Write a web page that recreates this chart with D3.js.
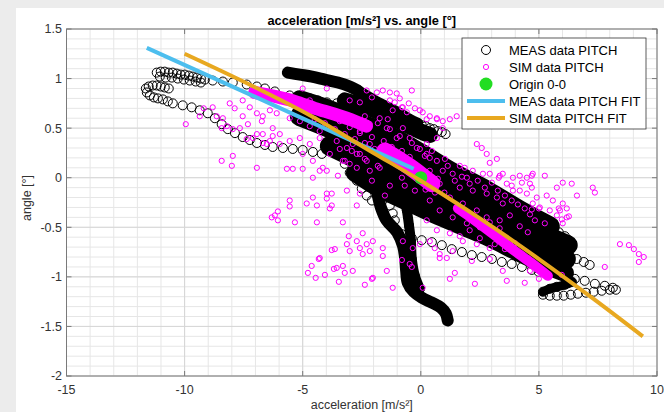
<!DOCTYPE html>
<html>
<head>
<meta charset="utf-8">
<script src="https://cdn.jsdelivr.net/npm/d3@7"></script>
<style>
  body { margin: 0; background: #ececec; }
  svg { display: block; font-family: Arial, "Liberation Sans", Helvetica, sans-serif; }
</style>
</head>
<body>
<svg width="664" height="412"></svg>
<script>
// ticks
const xTicks = [-15, -10, -5, 0, 5, 10];
const yTicks = [-2, -1.5, -1, -0.5, 0, 0.5, 1, 1.5];

// MEAS data PITCH (traces of overlapping circles)
const measTopLeftA = [[-11.18,1.06],[-11.01,1.07],[-10.84,1.07],[-10.67,1.06],[-10.50,1.06],[-10.33,1.05],[-10.16,1.04],[-9.99,1.04],[-9.82,1.03],[-9.65,1.02],[-9.48,1.01],[-9.31,1.00],[-9.14,0.99],[-8.81,0.98],[-8.38,0.97],[-7.96,0.96],[-7.37,0.94],[-6.94,0.92],[-6.60,0.90],[-6.18,0.87],[-5.55,0.83],[-5.12,0.81],[-4.70,0.80],[-4.36,0.78],[-3.98,0.76],[-3.56,0.75]];
const measTopLeftB = [[-11.05,1.02],[-10.80,1.01],[-10.54,1.01],[-10.29,1.00],[-10.03,0.99],[-9.78,0.98],[-9.53,0.97],[-9.31,0.96]];
const measLowerLeft = [[-11.64,0.90],[-11.52,0.92],[-11.35,0.93],[-11.18,0.93],[-11.01,0.92],[-10.84,0.91],[-10.67,0.90],[-11.60,0.86],[-11.47,0.83],[-11.30,0.81],[-11.13,0.80],[-10.92,0.79],[-10.71,0.77],[-10.50,0.75],[-10.08,0.73],[-9.70,0.71],[-9.36,0.68],[-9.02,0.65],[-8.72,0.60],[-8.43,0.54],[-8.17,0.49],[-7.87,0.45],[-7.54,0.41],[-7.24,0.38],[-6.94,0.35],[-6.60,0.33],[-6.27,0.31],[-5.84,0.30],[-5.42,0.29],[-5.00,0.28],[-4.57,0.26],[-4.19,0.24]];
const measTopArm = [[-5.63,1.06],[-5.12,1.04],[-4.61,1.02],[-4.06,0.99],[-3.51,0.96],[-3.01,0.92],[-2.67,0.88]];
const measRightArm = [[-2.67,0.88],[-2.24,0.82],[-1.82,0.76],[-1.31,0.70],[-0.89,0.65],[-0.47,0.59],[-0.13,0.55]];
const measRightArmEnd = [[0.04,0.53],[0.21,0.52],[0.38,0.50],[0.55,0.49],[0.72,0.47],[0.89,0.46],[1.05,0.44]];
const measBand0 = [[-3.22,0.78],[-2.16,0.70],[-1.10,0.59],[-0.04,0.47],[0.38,0.43]];
const measBand1 = [[-5.12,0.78],[-3.85,0.68],[-2.58,0.55],[-1.31,0.42],[-0.04,0.25],[1.35,0.05],[2.79,-0.13],[4.19,-0.33],[5.46,-0.49]];
const measBand2 = [[-5.12,0.62],[-3.85,0.50],[-2.58,0.37],[-1.31,0.20],[-0.04,0.07],[1.35,-0.11],[2.79,-0.28],[4.19,-0.45],[5.55,-0.61],[6.22,-0.68]];
const measBand3 = [[-3.85,0.32],[-2.58,0.17],[-1.31,-0.01],[-0.04,-0.13],[1.35,-0.28],[2.79,-0.45],[4.19,-0.61],[5.46,-0.76],[6.14,-0.82]];
const measBand4 = [[-2.79,0.05],[-1.74,-0.11],[-0.68,-0.23],[0.38,-0.35],[1.65,-0.48],[2.92,-0.61],[4.19,-0.76],[5.38,-0.89],[6.10,-0.96]];
const measTail = [[-1.82,-0.18],[-1.69,-0.30],[-1.45,-0.43],[-1.00,-0.55],[-0.75,-0.69],[-0.66,-0.82],[-0.62,-0.94],[-0.55,-1.06],[-0.30,-1.15],[0.04,-1.21],[0.47,-1.26],[0.85,-1.31],[1.06,-1.37],[1.14,-1.44]];
const measTail2 = [[-0.72,-0.18],[-0.59,-0.33],[-0.50,-0.48],[-0.42,-0.64],[-0.38,-0.82],[-0.25,-0.99],[-0.04,-1.12]];
const measEdgeLeft = [[-3.22,0.14],[-3.01,0.05],[-2.71,-0.03],[-2.50,-0.11],[-2.29,-0.18],[-2.07,-0.23],[-1.31,-0.28],[-1.19,-0.36],[-1.10,-0.43]];
const measEdge = [[-1.10,-0.52],[-0.80,-0.57],[-0.38,-0.61],[0.04,-0.63],[0.47,-0.65],[0.89,-0.68],[1.31,-0.72],[1.74,-0.75],[2.16,-0.78],[2.58,-0.80],[3.01,-0.82],[3.43,-0.85],[3.85,-0.87],[4.28,-0.90],[4.70,-0.93],[4.99,-0.95]];
const measLobeA = [[4.91,-0.45],[5.25,-0.49],[5.55,-0.52],[5.84,-0.55],[6.10,-0.59],[6.27,-0.63]];
const measLobeB = [[5.33,-0.64],[5.67,-0.67],[5.97,-0.69],[6.31,-0.71]];
const measLobeC = [[5.72,-0.74],[6.01,-0.77],[6.31,-0.80],[6.60,-0.82],[6.90,-0.85],[7.15,-0.88]];
const measLoopTop = [[6.52,-1.02],[6.94,-1.04],[7.37,-1.07],[7.79,-1.09],[8.13,-1.11]];
const measLoopBottom = [[5.17,-1.18],[5.46,-1.19],[5.76,-1.19],[6.05,-1.19],[6.35,-1.18],[6.65,-1.17],[6.99,-1.16],[7.32,-1.15],[7.66,-1.14],[8.00,-1.13],[8.26,-1.13]];
const measLoopLink = [[5.17,-1.15],[5.46,-1.12],[5.76,-1.10],[6.10,-1.08],[6.40,-1.05]];

// SIM data PITCH
const simCore1 = [[-7.03,0.86],[-6.18,0.82],[-5.33,0.77],[-4.49,0.70],[-3.64,0.64],[-2.79,0.57],[-2.30,0.52]];
const simCore2 = [[-1.52,0.27],[-0.97,0.19],[-0.47,0.11],[0.04,0.02],[0.47,-0.06]];
const simCore3 = [[1.57,-0.31],[2.29,-0.43],[3.13,-0.58],[3.98,-0.74],[4.74,-0.87],[5.38,-0.99]];
const simScatter = [
  [-9.95,0.54],[-9.36,0.62],[-9.19,0.70],[-8.81,0.71],[-8.09,0.75],[-7.88,0.70],[-8.64,0.62],[-8.38,0.60],[-8.21,0.52],[-8.43,0.50],[-7.96,0.49],[-7.66,0.50],[-7.54,0.62],[-7.32,0.54],[-7.54,0.78],[-7.11,0.83],[-7.24,0.71],[-6.94,0.65],[-6.69,0.62],[-6.39,0.68],[-6.73,0.57],[-6.10,0.65],[-5.55,0.60],[-5.12,0.57],[-4.70,0.78],
  [-6.94,0.44],[-7.11,0.40],[-7.37,0.39],[-6.69,0.35],[-6.69,0.44],[-6.52,0.34],[-6.39,0.37],[-6.27,0.42],[-5.97,0.34],[-7.96,0.22],[-8.43,0.17],[-8.00,0.12],[-6.94,0.10],
  [-5.67,0.09],[-5.42,0.09],[-5.00,0.09],[-4.57,0.00],[-4.28,0.07],[-3.98,0.07],[-3.51,0.02],[-3.77,-0.16],[-3.13,-0.13],[-5.55,-0.23],[-4.83,-0.26],[-4.57,-0.20],[-3.98,-0.16],[-4.40,-0.28],[-3.77,-0.28],[-3.98,-0.21],[-6.18,-0.38],[-6.05,-0.43],[-6.31,-0.40],[-5.33,-0.45],[-4.40,-0.45],[-3.30,-0.45],[-2.71,-0.28],[-2.58,-0.16],[-6.05,-0.34],[-5.55,-0.29],[-3.85,-0.31],
  [-4.32,-0.82],[-4.62,-0.89],[-4.78,-0.96],[-4.45,-1.01],[-4.06,-0.98],[-3.77,-0.73],[-2.46,-0.56],[-2.71,-0.64],[-3.13,-0.67],[-3.01,-0.74],[-2.58,-0.71],[-2.29,-0.67],[-2.03,-0.64],[-2.46,-0.77],[-2.16,-0.74],[-3.64,-0.72],[-4.28,-0.81],[-1.61,-0.79],[-3.56,-0.91],[-3.30,-0.89],[-3.22,-0.96],[-2.88,-0.94],[-1.44,-0.94],[-2.03,-1.01],
  [-3.43,0.29],[-2.88,0.34],[-2.58,0.24],[-3.22,0.17],[-3.01,0.14],
  [-1.19,-1.11],[-1.61,-0.71],[-0.76,-0.64],[-0.34,-0.71],[-0.04,-0.67],[-0.47,-0.87],[0.08,-1.11],[0.80,-0.81],[1.10,-0.81],[1.23,-1.02],[1.44,-0.96],[2.29,-1.07],[3.47,-0.94],[3.64,-1.04],[4.40,-1.06],[2.16,-0.84],[0.59,-0.71],[2.92,-0.82],[4.62,-0.94],[-3.05,-0.59],[-3.68,-0.92],[-3.47,-1.05],[-2.37,-1.08],[-2.07,-1.02],[-0.80,-0.83],[-0.38,-0.90],[5.00,-1.02],[5.97,-0.98],[7.79,-0.90],[8.43,-0.67],[8.81,-0.68],[9.02,-0.72],[9.23,-0.77],[9.44,-0.80],[9.23,-0.85],[5.97,-0.42],[6.27,-0.39],[5.25,-0.46],[4.70,-0.32],[5.00,-0.31],[5.84,-0.31],
  [2.37,0.34],[2.58,0.30],[2.79,0.24],[3.22,0.19],[2.92,0.15],[3.47,0.04],[3.90,0.00],[4.19,0.02],[4.49,0.00],[4.74,0.04],[5.25,0.02],[4.62,-0.06],[4.19,-0.13],[4.49,-0.16],[4.91,-0.20],[5.33,-0.18],[5.59,-0.23],[5.89,-0.33],[6.18,-0.40],[5.76,-0.10],[6.01,-0.05],[6.39,-0.06],[6.61,-0.18],[7.28,-0.10],[7.37,-0.15],[1.65,0.12],[1.86,0.10],[2.20,0.07],[2.63,0.04],[2.92,0.04],[3.34,0.02],[3.64,-0.06],[3.90,-0.13],[4.74,-0.26],[5.04,-0.30],[5.46,-0.33],[5.76,-0.38],[6.01,-0.46],
  [-1.61,0.88],[-1.31,0.86],[-1.02,0.85],[-0.38,0.88],[-0.89,0.80],[-1.10,0.76],[-0.80,0.71],[-0.59,0.66],[-1.19,0.68],[-1.40,0.59],[-0.25,0.70],[0.08,0.66],[0.38,0.62],[0.68,0.59],[0.25,0.59],[0.93,0.57],[1.23,0.59],[1.52,0.62],[-2.29,0.88],[-1.86,0.86],[-2.07,0.81],[-3.98,0.90],[-5.00,0.90],[-3.01,0.78],[-2.58,0.76],[-0.51,0.75],[3.30,0.00],[4.70,0.02],[4.28,-0.05],[3.85,-0.08],[4.70,-0.10],[6.18,-0.31],[6.01,-0.26],
  [0.25,0.24],[0.68,0.17],[0.93,0.07],[1.35,0.04],[1.95,0.00],[1.65,-0.10],[2.20,-0.13],[2.79,-0.16],[3.22,-0.20],[3.47,-0.26],[0.80,-0.06],[1.23,-0.20],[1.78,-0.26],[2.37,-0.33],[2.79,-0.40],[3.34,-0.43],[0.38,-0.23],[0.80,-0.33],[1.35,-0.40],[1.95,-0.46],[2.50,-0.50],[0.25,-0.43],[0.68,-0.53],[1.23,-0.56],[1.78,-0.64],[2.37,-0.67],[2.92,-0.71],[0.80,-0.77],[1.35,-0.74],[0.38,-0.64],
  [-4.28,0.40],[-3.56,0.37],[-3.13,0.30],[-2.71,0.24],[-2.29,0.17],[-1.74,0.10],[-3.85,0.24],[-3.30,0.17],[-2.71,0.10],[-2.16,0.07],[-4.15,0.10],[-4.57,0.17],[-5.00,0.24],[-5.55,0.37],[-5.97,0.44],[-6.27,0.50],[-5.12,0.40],[-4.70,0.34],[-2.16,0.34],[-1.74,0.27],[-2.58,0.47],[-2.16,0.54],[-1.74,0.60],[-1.44,0.50],[-1.02,0.40],[-0.76,0.50],[-0.47,0.40],[-0.17,0.30],[-1.31,0.78],[-0.76,0.71],[-0.04,0.68],[0.68,0.60],[0.93,0.50],[0.68,0.40],[0.25,0.34],[0.38,0.20],
  [-0.30,0.05],[0.20,-0.12],[0.60,-0.15],[-0.80,0.00],[1.00,-0.15],
  [0.17,0.22],[0.47,0.27],[1.02,0.19],[1.14,0.12],[0.38,0.07],[0.72,-0.01],[1.44,-0.03],[1.74,0.01],[2.07,-0.06],[2.41,-0.03],[2.71,-0.10],[3.01,-0.05],[3.26,-0.13],[3.56,-0.18],[3.85,-0.23],[4.11,-0.27],[4.40,-0.31],[4.62,-0.37],[4.83,-0.43],[3.77,-0.38],[4.19,-0.49],[4.53,-0.55],[3.34,-0.51],[2.92,-0.45],[2.07,-0.53],[1.65,-0.59],[2.50,-0.61],[3.13,-0.67],[3.56,-0.72],[3.98,-0.66],
  [-4.91,0.68],[-4.49,0.59],[-4.06,0.55],[-3.64,0.49],[-3.22,0.44],[-2.79,0.39],[-2.37,0.35],[-1.95,0.29],[-1.52,0.22],[-1.10,0.15],[-4.70,0.52],[-4.28,0.47],[-3.43,0.57],[-3.01,0.51],[-2.58,0.45],[-2.07,0.41],[-1.57,0.37],[-1.23,0.31],[-0.80,0.27],[-0.47,0.21],[-2.37,0.62],[-1.82,0.55],[-1.31,0.49],[-0.89,0.42],[-0.38,0.35],[-0.04,0.29],[-2.92,0.27],[-2.37,0.19],[-1.82,0.12],[-1.31,-0.08],[-0.68,-0.08],[-0.25,-0.13],[-2.07,-0.03],[-1.52,-0.18]
];

// origin and fits
const origin = [[0, 0]];
const measFit = [[-11.6,1.31],[-6.4,0.75],[-0.3,0.09]];
const simFit = [[-10,1.25],[-7,0.91],[-4.7,0.63],[-2,0.25],[0,-0.03],[2.5,-0.41],[5,-0.82],[7.3,-1.22],[9.4,-1.60]];

const legendItems = ["MEAS data PITCH", "SIM data PITCH", "Origin 0-0", "MEAS data PITCH FIT", "SIM data PITCH FIT"];

// ---------------------------------------------------------------
const svg = d3.select("svg");
const pL = 66.5, pR = 657, pT = 29, pB = 376;

svg.append("rect").attr("width", 664).attr("height", 412).attr("fill", "#ececec");
svg.append("rect").attr("x", 16).attr("y", 8).attr("width", 648).attr("height", 404).attr("fill", "#fff");

const x = d3.scaleLinear().domain([-15, 10]).range([pL, pR]);
const y = d3.scaleLinear().domain([-2, 1.5]).range([pB, pT]);

// grid
const grid = svg.append("g");
grid.selectAll(".vmin").data(x.ticks(25)).enter().append("line")
  .attr("x1", d => x(d)).attr("x2", d => x(d)).attr("y1", pT).attr("y2", pB)
  .attr("stroke", "#e6e6e6").attr("stroke-width", 1);
grid.selectAll(".hmin").data(y.ticks(35)).enter().append("line")
  .attr("y1", d => y(d)).attr("y2", d => y(d)).attr("x1", pL).attr("x2", pR)
  .attr("stroke", "#e6e6e6").attr("stroke-width", 1);
grid.selectAll(".vmaj").data(xTicks).enter().append("line")
  .attr("x1", d => x(d)).attr("x2", d => x(d)).attr("y1", pT).attr("y2", pB)
  .attr("stroke", "#d6d6d6").attr("stroke-width", 1);
grid.selectAll(".hmaj").data(yTicks).enter().append("line")
  .attr("y1", d => y(d)).attr("y2", d => y(d)).attr("x1", pL).attr("x2", pR)
  .attr("stroke", "#d6d6d6").attr("stroke-width", 1);

svg.append("clipPath").attr("id", "clip").append("rect")
  .attr("x", pL).attr("y", pT).attr("width", pR - pL).attr("height", pB - pT);
const plot = svg.append("g").attr("clip-path", "url(#clip)");

const line = d3.line().x(d => x(d[0])).y(d => y(d[1])).curve(d3.curveCatmullRom);

// MEAS: dense stretches drawn as solid strokes, every point as an open circle
const measStrokes = [
  [measTopArm, 12], [measRightArm, 11], [measBand0, 16], [measBand1, 20], [measBand2, 20],
  [measBand3, 20], [measBand4, 18], [measTail, 12], [measTail2, 10], [measLobeB, 9], [measLoopLink, 9]
];
measStrokes.forEach(([pts, w]) => {
  plot.append("path").datum(pts).attr("d", line)
    .attr("fill", "none").attr("stroke", "#000").attr("stroke-width", w)
    .attr("stroke-linecap", "round").attr("stroke-linejoin", "round");
});
const measAll = [].concat(measTopLeftA, measTopLeftB, measLowerLeft, measTopArm, measRightArm, measRightArmEnd,
  measBand0, measBand1, measBand2, measBand3, measBand4, measTail, measTail2, measEdgeLeft, measEdge,
  measLobeA, measLobeB, measLobeC, measLoopTop, measLoopBottom, measLoopLink);
plot.selectAll(".meas").data(measAll).enter().append("circle")
  .attr("cx", d => x(d[0])).attr("cy", d => y(d[1])).attr("r", 4.5)
  .attr("fill", "none").attr("stroke", "#000").attr("stroke-width", 1);

// SIM
[[simCore1, 13], [simCore2, 17], [simCore3, 10]].forEach(([pts, w]) => {
  plot.append("path").datum(pts).attr("d", line)
    .attr("fill", "none").attr("stroke", "#ff00ff").attr("stroke-width", w)
    .attr("stroke-linecap", "round").attr("stroke-linejoin", "round");
});
const simAll = [].concat(simScatter, simCore1, simCore2, simCore3);
plot.selectAll(".sim").data(simAll).enter().append("circle")
  .attr("cx", d => x(d[0])).attr("cy", d => y(d[1])).attr("r", 2.6)
  .attr("fill", "none").attr("stroke", "#ff00ff").attr("stroke-width", 1);

// origin
plot.selectAll(".origin").data(origin).enter().append("circle")
  .attr("cx", d => x(d[0])).attr("cy", d => y(d[1])).attr("r", 6.5).attr("fill", "#22dd22");

// fits
const fitLine = d3.line().x(d => x(d[0])).y(d => y(d[1])).curve(d3.curveMonotoneX);
plot.append("path").datum(measFit).attr("d", fitLine)
  .attr("fill", "none").attr("stroke", "#4dbeee").attr("stroke-width", 4);
plot.append("path").datum(simFit).attr("d", fitLine)
  .attr("fill", "none").attr("stroke", "#e8a820").attr("stroke-width", 4);

// axes box + ticks
svg.append("rect").attr("x", pL).attr("y", pT).attr("width", pR - pL).attr("height", pB - pT)
  .attr("fill", "none").attr("stroke", "#7a7a7a").attr("stroke-width", 1);
const tk = svg.append("g").attr("stroke", "#7a7a7a");
xTicks.forEach(t => {
  tk.append("line").attr("x1", x(t)).attr("x2", x(t)).attr("y1", pB).attr("y2", pB - 5);
  tk.append("line").attr("x1", x(t)).attr("x2", x(t)).attr("y1", pT).attr("y2", pT + 5);
});
yTicks.forEach(t => {
  tk.append("line").attr("y1", y(t)).attr("y2", y(t)).attr("x1", pL).attr("x2", pL + 5);
  tk.append("line").attr("y1", y(t)).attr("y2", y(t)).attr("x1", pR).attr("x2", pR - 5);
});

svg.selectAll(".xl").data(xTicks).enter().append("text")
  .attr("x", d => x(d)).attr("y", 394).attr("text-anchor", "middle")
  .attr("font-size", "12.5px").attr("fill", "#333").text(d => d);
svg.selectAll(".yl").data(yTicks).enter().append("text")
  .attr("x", 62).attr("y", d => y(d)).attr("dy", "0.35em").attr("text-anchor", "end")
  .attr("font-size", "12.5px").attr("fill", "#333").text(d => d);

svg.append("text").attr("x", (pL + pR) / 2).attr("y", 25).attr("text-anchor", "middle")
  .attr("font-size", "12.8px").attr("font-weight", "bold").attr("fill", "#000")
  .text("acceleration [m/s²] vs. angle [°]");
svg.append("text").attr("x", (pL + pR) / 2).attr("y", 408.5).attr("text-anchor", "middle")
  .attr("font-size", "12.5px").attr("fill", "#333").text("acceleration [m/s²]");
svg.append("text").attr("transform", "translate(31,198) rotate(-90)").attr("text-anchor", "middle")
  .attr("font-size", "12.5px").attr("fill", "#333").text("angle [°]");

// legend
const lg = svg.append("g");
lg.append("rect").attr("x", 462).attr("y", 38).attr("width", 184).attr("height", 91)
  .attr("fill", "#fff").attr("stroke", "#333").attr("stroke-width", 0.8);
const rowY = [50, 67, 84, 101, 118];
lg.append("circle").attr("cx", 486).attr("cy", rowY[0]).attr("r", 4.5).attr("fill", "none").attr("stroke", "#000");
lg.append("circle").attr("cx", 486).attr("cy", rowY[1]).attr("r", 2.6).attr("fill", "none").attr("stroke", "#ff00ff");
lg.append("circle").attr("cx", 486).attr("cy", rowY[2]).attr("r", 6.5).attr("fill", "#22dd22");
lg.append("line").attr("x1", 467).attr("x2", 505).attr("y1", rowY[3]).attr("y2", rowY[3]).attr("stroke", "#4dbeee").attr("stroke-width", 4);
lg.append("line").attr("x1", 467).attr("x2", 505).attr("y1", rowY[4]).attr("y2", rowY[4]).attr("stroke", "#e8a820").attr("stroke-width", 4);
lg.selectAll(".lt").data(legendItems).enter().append("text")
  .attr("x", 509).attr("y", (d, i) => rowY[i]).attr("dy", "0.36em")
  .attr("font-size", "13px").attr("fill", "#000").text(d => d);
</script>
</body>
</html>
